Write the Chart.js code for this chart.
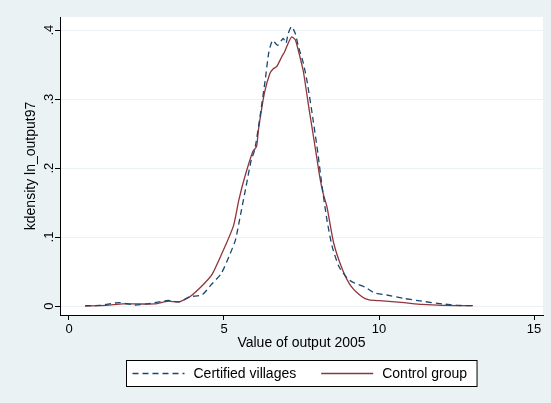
<!DOCTYPE html>
<html>
<head>
<meta charset="utf-8">
<script src="https://cdn.jsdelivr.net/npm/chart.js@4"></script>
<style>
  body { margin: 0; background: #eaf2f3; }
  canvas { display: block; }
</style>
</head>
<body>
<canvas id="kdens" width="551" height="403"></canvas>
<script>
// kdensity readings
const certX = [0.52, 1.0, 1.62, 2.13, 2.64, 3.2, 3.55, 3.9, 4.29, 4.57, 4.91, 5.2, 5.37, 5.54, 5.71, 5.88, 5.99, 6.16, 6.33, 6.45, 6.57, 6.73, 6.91, 7.0, 7.07, 7.18, 7.3, 7.4, 7.56, 7.69, 7.86, 8.03, 8.15, 8.32, 8.49, 8.71, 9.0, 9.23, 9.57, 9.85, 10.25, 10.81, 11.38, 12.06, 12.52, 13.03]
const certY = [0.0005, 0.001, 0.005, 0.0015, 0.004, 0.008, 0.006, 0.0135, 0.016, 0.030, 0.047, 0.076, 0.096, 0.134, 0.173, 0.212, 0.226, 0.274, 0.328, 0.369, 0.385, 0.378, 0.388, 0.381, 0.395, 0.405, 0.395, 0.376, 0.352, 0.323, 0.274, 0.221, 0.178, 0.125, 0.086, 0.057, 0.039, 0.033, 0.027, 0.019, 0.016, 0.011, 0.007, 0.003, 0.001, 0.0005]

const ctrlX = [0.52, 1.2, 1.74, 2.2, 2.76, 3.2, 3.55, 3.9, 4.35, 4.63, 5.03, 5.31, 5.48, 5.67, 5.93, 6.05, 6.11, 6.3, 6.48, 6.59, 6.70, 6.86, 6.96, 7.07, 7.18, 7.3, 7.45, 7.56, 7.75, 7.92, 8.09, 8.2, 8.32, 8.54, 8.83, 9.11, 9.45, 9.68, 10.02, 10.81, 11.38, 12.06, 13.03]
const ctrlY = [0, 0.001, 0.003, 0.003, 0.003, 0.007, 0.006, 0.0135, 0.032, 0.047, 0.086, 0.117, 0.154, 0.187, 0.224, 0.231, 0.255, 0.308, 0.337, 0.344, 0.347, 0.361, 0.369, 0.381, 0.390, 0.386, 0.361, 0.340, 0.284, 0.236, 0.187, 0.163, 0.144, 0.091, 0.052, 0.028, 0.0135, 0.009, 0.0077, 0.0048, 0.0024, 0.001, 0.0005]

const seriesNames = ['Certified villages', 'Control group']
const xTicks = [0, 5, 10, 15]
const yTicks = [0, 0.1, 0.2, 0.3, 0.4]
const xTitle = 'Value of output 2005'
const yTitle = 'kdensity ln_output97'

const toPoints = (xs, ys) => xs.map((x, i) => ({x: x, y: ys[i]}))

Chart.defaults.font.family = '"Liberation Sans", Arial, sans-serif'
Chart.defaults.color = '#000'

// white plot region
const plotBg = {
    id: 'plotBg',
    beforeDraw(chart) {
        const a = chart.chartArea
        chart.ctx.save()
        chart.ctx.fillStyle = '#fff'
        chart.ctx.fillRect(a.left, a.top, a.right - a.left, a.bottom - a.top)
        chart.ctx.restore()
    }
}

// Stata style legend box under the x title
const boxLegend = {
    id: 'boxLegend',
    afterDraw(chart) {
        const ctx = chart.ctx
        const a = chart.chartArea
        const sets = chart.data.datasets
        ctx.save()
        ctx.font = '14px "Liberation Sans", Arial, sans-serif'
        const sample = 52, gapTxt = 9, gapItem = 25, padL = 6, padR = 10
        const widths = sets.map(d => ctx.measureText(d.label).width)
        let total = padL + padR + sets.length * (sample + gapTxt) + gapItem * (sets.length - 1)
        widths.forEach(w => total += w)
        const cx = (a.left + a.right) / 2
        const left = Math.round(cx - total / 2) + 0.5
        const top = 360.5, h = 26
        ctx.fillStyle = '#fff'
        ctx.fillRect(left, top, total, h)
        ctx.strokeStyle = '#000'
        ctx.lineWidth = 1
        ctx.strokeRect(left, top, total, h)
        const yMid = top + h / 2
        let x = left + padL
        sets.forEach((d, i) => {
            ctx.beginPath()
            ctx.setLineDash(d.borderDash || [])
            ctx.strokeStyle = d.borderColor
            ctx.lineWidth = d.borderWidth
            ctx.moveTo(x, yMid)
            ctx.lineTo(x + sample, yMid)
            ctx.stroke()
            ctx.setLineDash([])
            x += sample + gapTxt
            ctx.fillStyle = '#000'
            ctx.textBaseline = 'middle'
            ctx.fillText(d.label, x, yMid + 0.5)
            x += widths[i] + gapItem
        })
        ctx.restore()
    }
}

new Chart('kdens', {
    type: 'scatter',
    data: {
        datasets: [
            {
                label: seriesNames[0],
                data: toPoints(certX, certY),
                showLine: true,
                borderColor: '#1a476f',
                borderWidth: 1.3,
                borderDash: [6, 4],
                pointRadius: 0,
                tension: 0.2,
                fill: false
            },
            {
                label: seriesNames[1],
                data: toPoints(ctrlX, ctrlY),
                showLine: true,
                borderColor: '#90353b',
                borderWidth: 1.3,
                pointRadius: 0,
                tension: 0.2,
                fill: false
            }
        ]
    },
    options: {
        responsive: false,
        animation: false,
        devicePixelRatio: 1,
        layout: { padding: { top: 17, right: 8, bottom: 43, left: 0 } },
        plugins: {
            legend: { display: false },
            tooltip: { enabled: false }
        },
        scales: {
            x: {
                type: 'linear',
                min: -0.29,
                max: 15.29,
                afterBuildTicks: s => { s.ticks = xTicks.map(v => ({value: v})) },
                afterFit: s => { s.height = 45 },
                grid: { drawOnChartArea: false, tickLength: 5, tickColor: '#000' },
                border: { color: '#000', width: 1 },
                ticks: { font: { size: 13 }, padding: 2, maxRotation: 0 },
                title: { display: true, text: xTitle, font: { size: 14 }, padding: { top: 0, bottom: 8 } }
            },
            y: {
                type: 'linear',
                min: -0.013,
                max: 0.419,
                afterBuildTicks: s => { s.ticks = yTicks.map(v => ({value: v})) },
                afterFit: s => { s.width = 60 },
                grid: { color: '#eaf2f3', lineWidth: 1, tickLength: 5, tickColor: '#000' },
                border: { color: '#000', width: 1 },
                ticks: {
                    font: { size: 13 },
                    padding: 0,
                    minRotation: 90,
                    maxRotation: 90,
                    crossAlign: 'center',
                    callback: v => v === 0 ? '0' : '.' + Math.round(v * 10)
                },
                title: { display: true, text: yTitle, font: { size: 14 }, padding: { top: 23, bottom: 0 } }
            }
        }
    },
    plugins: [plotBg, boxLegend]
})
</script>
</body>
</html>
